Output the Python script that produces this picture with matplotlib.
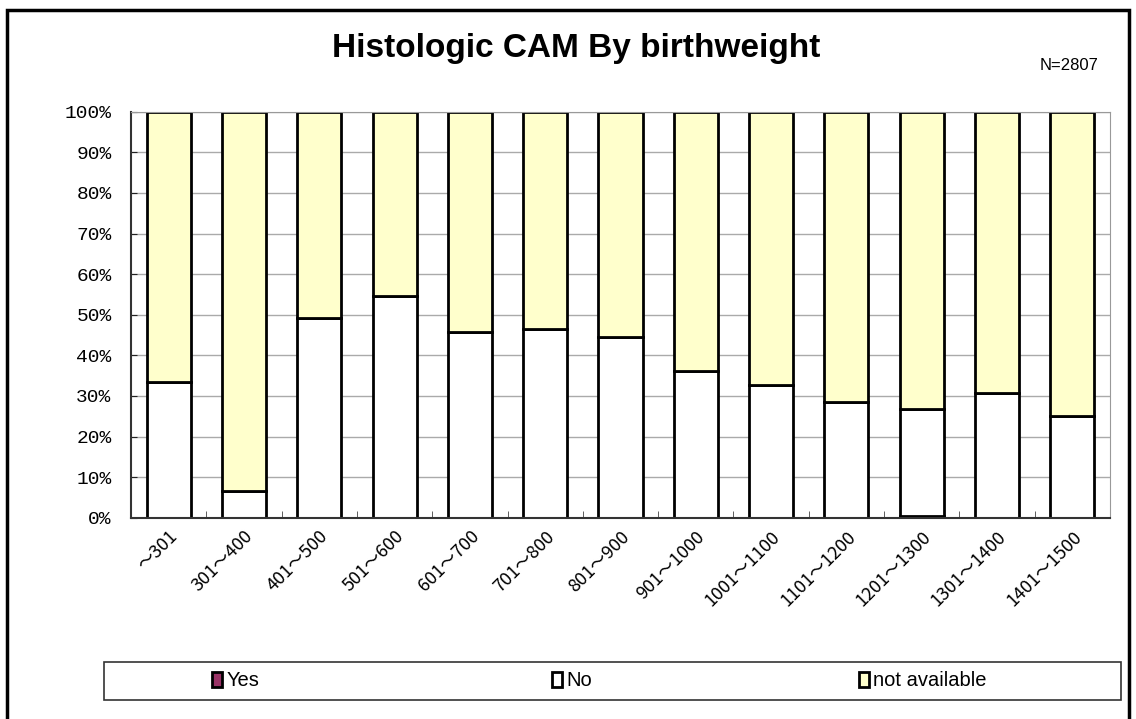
import matplotlib
matplotlib.use('Agg')
import matplotlib.pyplot as plt
from matplotlib.patches import Rectangle
import numpy as np

categories = ['～301', '301～400', '401～500', '501～600', '601～700', '701～800',
              '801～900', '901～1000', '1001～1100', '1101～1200', '1201～1300',
              '1301～1400', '1401～1500']
yes = [0, 0, 0, 0, 0, 0, 0, 0, 0, 0, 0.4, 0, 0]
no = [33.4, 6.5, 49.1, 54.7, 45.7, 46.4, 44.4, 36.2, 32.7, 28.5, 26.4, 30.6, 25.0]
not_avail = [100 - a - b for a, b in zip(yes, no)]

W, H = 1136, 719
fig = plt.figure(figsize=(W / 100, H / 100), dpi=100)
ax = fig.add_axes([131 / W, 1 - 517.7 / H, (1110 - 131) / W, (517.7 - 111.7) / H])

x = np.arange(len(categories))
bw = 0.585
kw = dict(width=bw, edgecolor='black', linewidth=2)
b1 = ax.bar(x, yes, color='#993366', label='Yes', **kw)
b2 = ax.bar(x, no, bottom=yes, color='white', label='No', **kw)
b3 = ax.bar(x, not_avail, bottom=np.add(yes, no), color='#FFFFCC',
            label='not available', **kw)

ax.set_xlim(-0.5, len(categories) - 0.5)
ax.set_ylim(0, 100)
ax.set_yticks(np.arange(0, 101, 10))
ax.set_yticklabels([f'{v}%' for v in range(0, 101, 10)],
                   family='Liberation Mono', fontsize=14)
ax.yaxis.grid(True, color='#aaaaaa', lw=1)
ax.set_axisbelow(True)

# category labels, ticks between categories
ax.set_xticks(x)
ax.set_xticklabels(categories, rotation=45, ha='right', va='top',
                   rotation_mode='anchor', family=['Noto Sans CJK JP', 'DejaVu Sans'],
                   fontsize=13)
ax.tick_params(axis='x', length=0, pad=7)
ax.set_xticks(np.arange(0.5, len(categories) - 0.5, 1), minor=True)
ax.tick_params(axis='x', which='minor', direction='in', length=5, color='#444444')
ax.tick_params(axis='y', direction='in', length=4, color='#222222', pad=14)

for s in ['top', 'right']:
    ax.spines[s].set_color('#999999')
for s in ['left', 'bottom']:
    ax.spines[s].set_color('#333333')
    ax.spines[s].set_linewidth(1.5)

fig.text(576 / W, 1 - 48 / H, 'Histologic CAM By birthweight', ha='center',
         va='center', fontsize=24, fontweight='bold', family='Liberation Sans')
fig.text(1069 / W, 1 - 65 / H, 'N=2807', ha='center', va='center',
         fontsize=12, family='Liberation Sans')

# legend box with three entries
fig.patches.append(Rectangle((104 / W, 1 - 700 / H), (1121 - 104) / W, 38 / H,
                             transform=fig.transFigure, fill=False,
                             edgecolor='#333333', lw=1.2))
for handle, hx in zip([b1, b2, b3], [212, 552, 859]):
    fig.legend(handles=[handle], loc='center left',
               bbox_to_anchor=(hx / W, 1 - 681 / H), frameon=False,
               prop={'family': 'Liberation Sans', 'size': 14.5},
               handlelength=0.5, handleheight=0.7, handletextpad=0.2,
               borderpad=0, borderaxespad=0)

# outer frame
fig.patches.append(Rectangle((7 / W, -0.05), (1129 - 7) / W, 1.05 - 10 / H,
                             transform=fig.transFigure, fill=False,
                             edgecolor='black', lw=2.5))

fig.savefig('out.png', dpi=100)
